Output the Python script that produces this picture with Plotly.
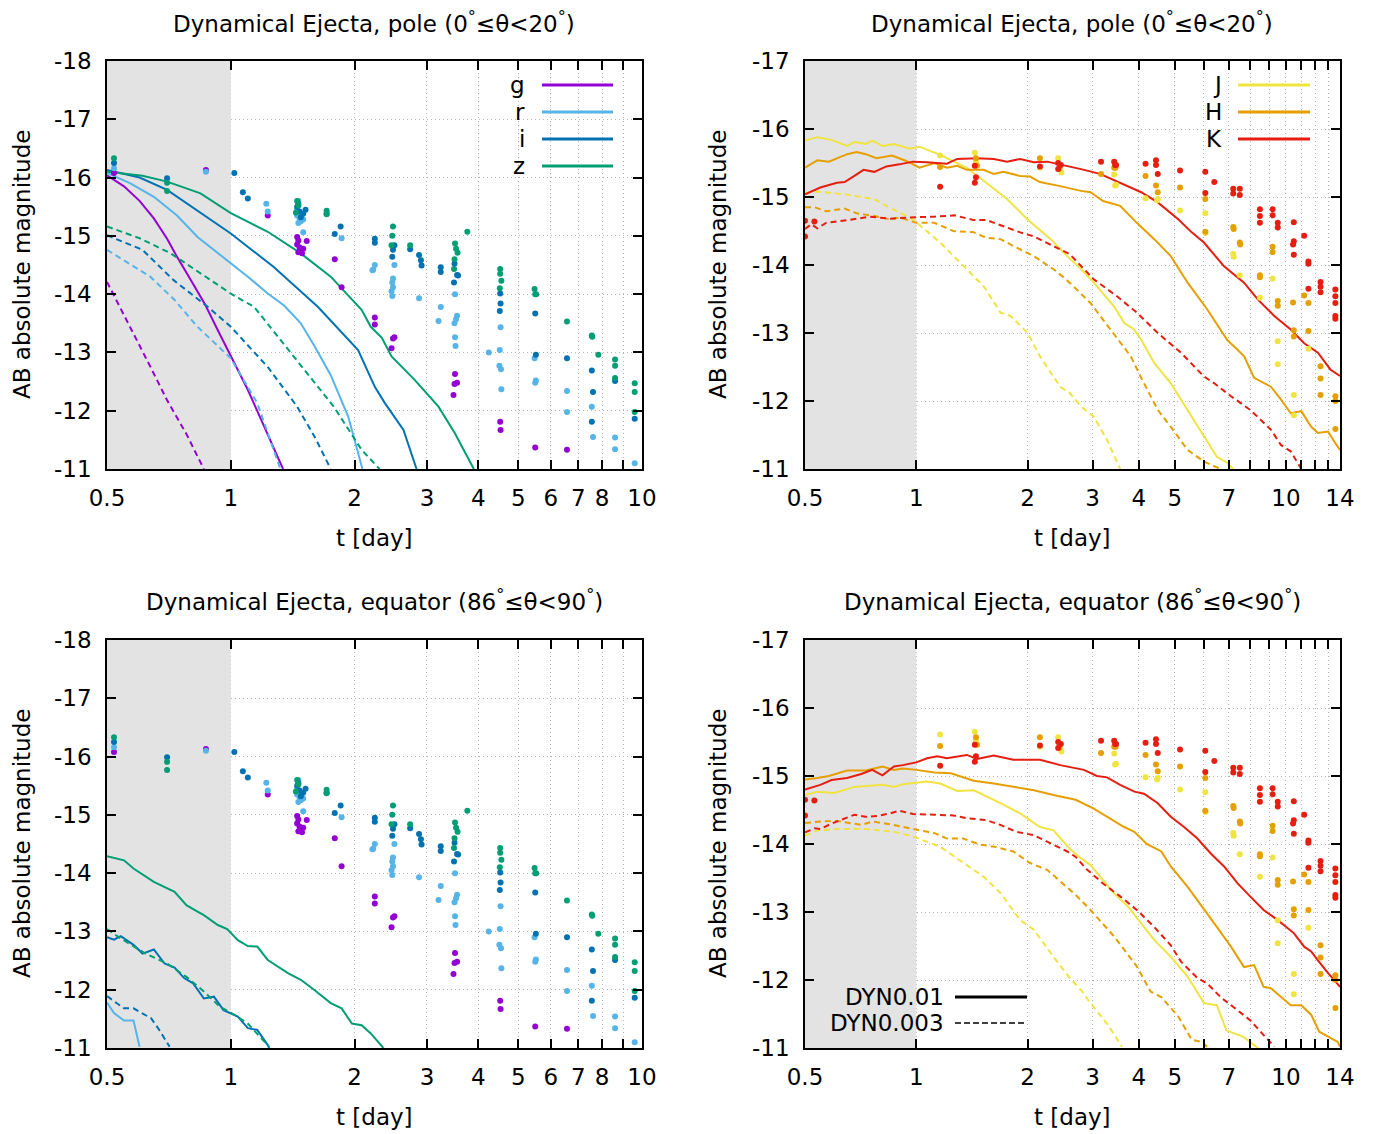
import math
import plotly.graph_objects as go

# ---------------------------------------------------------------- colours
COL = {"g": "#9400D3", "r": "#56B4E9", "i": "#0072B2", "z": "#009E73",
       "J": "#F0E442", "H": "#E69F00", "K": "#E51E10"}

# ---------------------------------------------------------------- model light curves
# pole (0 <= theta < 20 deg), optical bands; solid = DYN0.01, dashed = DYN0.003
pole_g_sol_t = [0.5, 0.55, 0.6, 0.65, 0.7, 0.74, 0.8, 0.868, 0.93, 1.0, 1.1, 1.2, 1.34]
pole_g_sol_m = [-16.04, -15.85, -15.6, -15.3, -14.95, -14.64, -14.24, -13.81, -13.38, -12.93, -12.36, -11.76, -11.0]
pole_g_dash_t = [0.5, 0.58, 0.64, 0.7, 0.78, 0.86]
pole_g_dash_m = [-14.21, -13.33, -12.73, -12.18, -11.6, -11.0]

pole_r_sol_t = [0.5, 0.57, 0.65, 0.74, 0.83, 1.0, 1.1, 1.23, 1.35, 1.48, 1.6, 1.75, 1.93, 2.09]
pole_r_sol_m = [-16.08, -15.9, -15.67, -15.35, -14.98, -14.53, -14.3, -14.01, -13.8, -13.5, -13.1, -12.61, -11.9, -11.0]
pole_r_dash_t = [0.5, 0.637, 0.73, 0.83, 1.0, 1.16, 1.32]
pole_r_dash_m = [-14.76, -14.30, -13.9, -13.44, -12.9, -12.13, -11.0]

pole_i_sol_t = [0.5, 0.6, 0.7, 0.844, 1.0, 1.27, 1.63, 2.04, 2.24, 2.37, 2.63, 2.83]
pole_i_sol_m = [-16.13, -16.0, -15.79, -15.39, -15.04, -14.47, -13.78, -13.04, -12.41, -12.13, -11.67, -11.0]
pole_i_dash_t = [0.5, 0.61, 0.726, 0.88, 1.0, 1.23, 1.45, 1.6, 1.75]
pole_i_dash_m = [-15.01, -14.76, -14.24, -13.78, -13.44, -12.75, -12.07, -11.55, -11.0]

pole_z_sol_t = [0.5, 0.61, 0.7, 0.844, 1.0, 1.23, 1.48, 1.75, 2.08, 2.19, 2.33, 2.46, 2.8, 3.2, 3.51, 3.9]
pole_z_sol_m = [-16.1, -16.03, -15.93, -15.73, -15.39, -15.07, -14.7, -14.3, -13.73, -13.44, -13.25, -12.93, -12.53, -12.07, -11.61, -11.0]
pole_z_dash_t = [0.5, 0.6, 0.714, 0.844, 1.0, 1.14, 1.3, 1.53, 1.78, 2.08, 2.3]
pole_z_dash_m = [-15.16, -14.96, -14.70, -14.36, -14.01, -13.78, -13.27, -12.64, -12.07, -11.33, -11.0]

# pole, near-infrared bands
pole_J_sol_t = [0.5, 0.54, 0.59, 0.65, 0.68, 0.73, 0.76, 0.81, 0.87, 0.96, 1.02, 1.16, 1.37, 1.55, 1.76,
                2.0, 2.31, 2.56, 2.79, 3.02, 3.43, 3.65, 3.89, 4.06, 4.4, 4.88, 5.42, 6.0, 6.5, 6.9, 7.2]
pole_J_sol_m = [-15.83, -15.88, -15.84, -15.75, -15.81, -15.78, -15.83, -15.75, -15.78, -15.71, -15.74, -15.62,
                -15.43, -15.21, -14.97, -14.67, -14.38, -14.13, -13.94, -13.74, -13.39, -13.15, -13.05, -12.9,
                -12.56, -12.26, -11.87, -11.48, -11.18, -11.1, -11.0]
pole_H_sol_t = [0.5, 0.54, 0.58, 0.65, 0.69, 0.73, 0.78, 0.86, 0.94, 1.02, 1.12, 1.21, 1.29, 1.37, 1.52, 1.62,
                1.72, 1.91, 2.03, 2.16, 2.45, 2.79, 2.96, 3.2, 3.56, 3.95, 4.4, 4.88, 5.42, 6.12, 6.93, 7.7,
                8.2, 9.1, 9.7, 10.3, 11.0, 11.7, 12.2, 13.0, 13.6, 14.0]
pole_H_sol_m = [-15.43, -15.54, -15.52, -15.63, -15.66, -15.63, -15.57, -15.61, -15.53, -15.43, -15.5, -15.43,
                -15.46, -15.4, -15.4, -15.34, -15.37, -15.31, -15.3, -15.22, -15.16, -15.09, -15.07, -14.94,
                -14.87, -14.62, -14.38, -14.13, -13.74, -13.35, -12.9, -12.66, -12.34, -12.21, -12.02, -11.82,
                -11.85, -11.62, -11.53, -11.55, -11.38, -11.28]
pole_K_sol_t = [0.5, 0.55, 0.61, 0.64, 0.68, 0.72, 0.77, 0.83, 0.9, 0.98, 1.07, 1.21, 1.29, 1.46, 1.62, 1.76,
                1.91, 2.08, 2.26, 2.45, 2.79, 3.14, 3.56, 4.06, 4.5, 5.12, 5.56, 6.0, 6.8, 7.7, 8.4, 9.3,
                10.3, 11.2, 12.2, 13.2, 14.0]
pole_K_sol_m = [-15.04, -15.14, -15.21, -15.22, -15.31, -15.4, -15.37, -15.45, -15.48, -15.52, -15.51, -15.49,
                -15.56, -15.57, -15.56, -15.52, -15.56, -15.51, -15.52, -15.48, -15.41, -15.34, -15.21, -15.07,
                -14.92, -14.67, -14.48, -14.33, -13.98, -13.74, -13.49, -13.25, -13.05, -12.85, -12.71,
                -12.46, -12.37]
pole_J_dash_t = [0.5, 0.54, 0.64, 0.77, 0.83, 0.9, 0.98, 1.16, 1.34, 1.52, 1.69, 1.8, 2.0, 2.16, 2.45, 2.6,
                 2.79, 3.02, 3.28, 3.56]
pole_J_dash_m = [-15.06, -15.08, -15.04, -14.97, -14.87, -14.77, -14.67, -14.33, -13.98, -13.69, -13.3, -13.25,
                 -13.0, -12.66, -12.21, -12.12, -11.92, -11.77, -11.43, -11.0]
pole_H_dash_t = [0.5, 0.53, 0.57, 0.64, 0.69, 0.77, 0.85, 0.9, 1.0, 1.12, 1.26, 1.43, 1.55, 1.69, 1.83, 2.08,
                 2.39, 2.6, 2.96, 3.36, 3.8, 4.13, 4.5, 4.88, 5.42, 6.0, 6.65]
pole_H_dash_m = [-14.85, -14.85, -14.79, -14.83, -14.76, -14.72, -14.67, -14.7, -14.62, -14.62, -14.5, -14.48,
                 -14.4, -14.38, -14.28, -14.13, -13.91, -13.74, -13.44, -13.05, -12.66, -12.26, -11.87, -11.62,
                 -11.28, -11.11, -11.0]
pole_K_dash_t = [0.5, 0.52, 0.54, 0.57, 0.65, 0.75, 0.85, 0.96, 1.12, 1.27, 1.43, 1.55, 1.72, 1.91, 2.08, 2.35,
                 2.6, 3.02, 3.49, 3.95, 4.5, 5.2, 6.0, 6.4, 7.1, 8.0, 9.1, 9.7, 10.3, 11.0]
pole_K_dash_m = [-14.53, -14.6, -14.54, -14.62, -14.66, -14.71, -14.68, -14.7, -14.71, -14.73, -14.66, -14.66,
                 -14.57, -14.48, -14.42, -14.28, -14.16, -13.79, -13.54, -13.3, -13.0, -12.71, -12.36, -12.26,
                 -12.07, -11.87, -11.58, -11.35, -11.26, -11.0]

# equator (86 <= theta < 90 deg), optical bands
eq_r_sol_t = [0.5, 0.52, 0.55, 0.58, 0.6]
eq_r_sol_m = [-11.78, -11.6, -11.47, -11.47, -11.02]
eq_i_sol_t = [0.5, 0.52, 0.54, 0.58, 0.61, 0.65, 0.69, 0.73, 0.77, 0.81, 0.86, 0.91, 0.96, 1.04, 1.1, 1.16, 1.23, 1.24]
eq_i_sol_m = [-12.9, -12.86, -12.92, -12.77, -12.62, -12.69, -12.45, -12.38, -12.2, -12.11, -11.85, -11.88,
              -11.65, -11.54, -11.34, -11.31, -11.05, -11.0]
eq_i_dash_t = [0.5, 0.55, 0.58, 0.64, 0.67, 0.71]
eq_i_dash_m = [-11.89, -11.68, -11.68, -11.51, -11.31, -11.02]
eq_z_sol_t = [0.5, 0.55, 0.58, 0.65, 0.73, 0.78, 0.83, 0.86, 0.93, 0.98, 1.04, 1.1, 1.16, 1.23, 1.38, 1.48,
              1.6, 1.75, 1.86, 1.97, 2.08, 2.19, 2.35]
eq_z_sol_m = [-14.29, -14.22, -14.08, -13.85, -13.68, -13.45, -13.34, -13.28, -13.11, -13.04, -12.85, -12.75,
              -12.74, -12.51, -12.28, -12.17, -11.99, -11.77, -11.68, -11.42, -11.39, -11.25, -11.0]
eq_z_dash_t = [0.5, 0.54, 0.62, 0.7, 0.78, 0.86, 0.94, 1.02, 1.1, 1.18, 1.24]
eq_z_dash_m = [-13.04, -12.88, -12.62, -12.45, -12.22, -11.97, -11.71, -11.57, -11.42, -11.19, -11.02]

# equator, near-infrared bands
eq_J_sol_t = [0.5, 0.54, 0.6, 0.68, 0.81, 0.87, 0.92, 1.07, 1.16, 1.29, 1.43, 1.55, 1.69, 1.91, 2.16, 2.35,
              2.6, 2.79, 2.96, 3.2, 3.43, 3.74, 4.06, 4.4, 4.88, 5.42, 6.0, 6.5, 6.9, 7.7, 8.4]
eq_J_sol_m = [-14.72, -14.77, -14.75, -14.84, -14.87, -14.84, -14.88, -14.92, -14.89, -14.78, -14.79, -14.7,
              -14.6, -14.45, -14.25, -14.2, -13.93, -13.79, -13.69, -13.47, -13.27, -13.08, -12.83, -12.59,
              -12.34, -12.05, -11.66, -11.63, -11.26, -11.16, -11.0]
eq_H_sol_t = [0.5, 0.54, 0.58, 0.65, 0.73, 0.81, 0.87, 0.92, 1.0, 1.12, 1.24, 1.43, 1.62, 1.83, 2.08, 2.35,
              2.7, 3.02, 3.28, 3.65, 3.89, 4.2, 4.6, 4.88, 5.42, 6.0, 6.5, 7.1, 7.7, 8.2, 8.7, 9.1, 9.7, 10.3,
              11.0, 11.7, 12.3, 13.0, 13.8, 14.0]
eq_H_sol_m = [-14.95, -14.97, -15.0, -15.08, -15.08, -15.14, -15.09, -15.11, -15.09, -15.05, -15.04, -14.93,
              -14.89, -14.84, -14.79, -14.72, -14.65, -14.52, -14.4, -14.25, -14.18, -14.0, -13.89, -13.67,
              -13.37, -13.03, -12.78, -12.49, -12.19, -12.22, -11.9, -11.88, -11.75, -11.63, -11.63, -11.49,
              -11.24, -11.17, -11.09, -11.02]
eq_K_sol_t = [0.5, 0.55, 0.59, 0.65, 0.71, 0.76, 0.81, 0.87, 0.92, 1.0, 1.07, 1.14, 1.21, 1.37, 1.46, 1.62,
              1.83, 2.16, 2.45, 2.7, 2.84, 3.08, 3.28, 3.56, 3.89, 4.13, 4.5, 4.88, 5.3, 5.76, 6.26, 6.8, 7.4,
              8.0, 8.7, 9.5, 10.5, 11.2, 11.7, 12.2, 13.0, 14.0]
eq_K_sol_m = [-14.8, -14.87, -14.94, -14.97, -15.03, -15.09, -15.01, -15.14, -15.16, -15.2, -15.26, -15.29,
              -15.26, -15.31, -15.25, -15.3, -15.24, -15.24, -15.16, -15.11, -15.09, -15.0, -14.98, -14.87,
              -14.77, -14.74, -14.6, -14.4, -14.25, -14.08, -13.86, -13.67, -13.42, -13.23, -13.03, -12.88,
              -12.69, -12.49, -12.42, -12.29, -12.1, -11.9]
eq_J_dash_t = [0.5, 0.54, 0.61, 0.73, 0.87, 0.98, 1.16, 1.34, 1.52, 1.69, 1.91, 2.08, 2.35, 2.6, 2.79, 2.96,
               3.28, 3.6]
eq_J_dash_m = [-14.12, -14.2, -14.22, -14.22, -14.18, -14.11, -13.96, -13.72, -13.52, -13.28, -12.88, -12.74,
               -12.34, -12.03, -11.85, -11.66, -11.36, -11.02]
eq_H_dash_t = [0.5, 0.55, 0.61, 0.71, 0.76, 0.85, 0.96, 1.12, 1.21, 1.34, 1.49, 1.63, 1.83, 2.03, 2.26, 2.56,
               2.7, 2.96, 3.43, 3.95, 4.3, 4.6, 5.12, 5.56, 5.9, 6.12]
eq_H_dash_m = [-14.31, -14.33, -14.34, -14.28, -14.33, -14.29, -14.23, -14.16, -14.08, -14.08, -13.99, -13.96,
               -13.89, -13.72, -13.62, -13.37, -13.25, -13.03, -12.64, -12.2, -11.83, -11.75, -11.46, -11.12,
               -11.09, -11.02]
eq_K_dash_t = [0.5, 0.53, 0.55, 0.59, 0.68, 0.73, 0.78, 0.85, 0.9, 0.98, 1.12, 1.26, 1.37, 1.55, 1.69, 1.86,
               2.08, 2.35, 2.56, 2.7, 2.9, 3.2, 3.56, 3.95, 4.4, 4.88, 5.2, 5.76, 6.12, 6.65, 7.4, 8.0, 8.7, 9.3]
eq_K_dash_m = [-14.17, -14.23, -14.22, -14.3, -14.43, -14.4, -14.41, -14.45, -14.49, -14.44, -14.43, -14.42,
               -14.38, -14.35, -14.28, -14.18, -14.13, -13.99, -13.89, -13.81, -13.62, -13.42, -13.23, -13.03,
               -12.78, -12.51, -12.27, -12.03, -11.95, -11.75, -11.56, -11.41, -11.19, -11.02]

# ---------------------------------------------------------------- observed photometry (same in both rows)
obs_g_t = [0.52, 0.87, 1.23, 1.45, 1.46, 1.45, 1.47, 1.48, 1.46, 1.49, 1.53, 1.5, 1.79, 1.86, 2.24, 2.24,
           2.48, 2.5, 2.46, 3.51, 3.55, 3.5, 3.48, 4.52, 4.53, 5.5, 6.57]
obs_g_m = [-16.08, -16.13, -15.35, -14.98, -14.92, -14.85, -14.8, -14.75, -14.72, -14.7, -14.91, -14.78,
           -14.6, -14.12, -13.6, -13.48, -13.24, -13.26, -13.07, -12.63, -12.48, -12.46, -12.27, -11.81,
           -11.67, -11.37, -11.33]
obs_r_t = [0.52, 0.87, 1.22, 1.23, 1.46, 1.45, 1.47, 1.48, 1.46, 1.5, 1.45, 1.5, 1.86, 2.24, 2.22, 2.21,
           2.5, 2.48, 2.47, 2.48, 2.46, 2.47, 2.87, 3.24, 3.2, 3.51, 3.55, 3.53, 3.5, 3.51, 3.52, 4.24, 4.53,
           4.51, 4.5, 4.54, 4.55, 5.48, 5.52, 5.5, 6.57, 6.57, 7.55, 7.6, 8.6, 8.6, 9.6]
obs_r_m = [-16.16, -16.1, -15.55, -15.42, -15.6, -15.35, -15.3, -15.25, -15.22, -15.28, -15.45, -15.06,
           -14.96, -14.5, -14.42, -14.41, -14.5, -14.27, -14.2, -14.12, -14.05, -13.97, -13.93, -13.78,
           -13.54, -14.0, -13.63, -13.57, -13.5, -13.26, -13.11, -13.0, -13.43, -13.04, -12.77, -12.71,
           -12.37, -12.9, -12.52, -12.48, -12.34, -11.98, -12.07, -11.55, -11.54, -11.34, -11.1]
obs_i_t = [0.52, 0.7, 1.02, 1.07, 1.1, 1.45, 1.47, 1.5, 1.52, 1.48, 1.46, 1.71, 1.79, 1.85, 2.24, 2.24, 2.5,
           2.48, 2.47, 2.73, 2.87, 2.9, 2.91, 3.24, 3.24, 3.5, 3.55, 3.57, 3.49, 4.52, 4.53, 4.51, 5.5, 5.52,
           6.57, 7.55, 7.6, 7.55, 8.6, 9.6]
obs_i_m = [-16.25, -15.99, -16.08, -15.75, -15.64, -15.5, -15.42, -15.38, -15.45, -15.32, -15.55, -15.38,
           -15.03, -15.16, -14.95, -14.88, -14.84, -14.76, -14.64, -14.77, -14.67, -14.58, -14.49, -14.46,
           -14.38, -14.52, -14.33, -14.32, -14.2, -14.01, -13.84, -13.71, -13.67, -12.96, -12.9, -12.69,
           -12.32, -11.81, -12.51, -11.86]
obs_z_t = [0.52, 0.7, 0.7, 1.45, 1.46, 1.44, 1.71, 1.71, 2.48, 2.47, 2.46, 2.73, 3.51, 3.53, 3.56, 3.5, 3.49,
           3.76, 4.52, 4.52, 4.55, 4.51, 5.48, 5.5, 5.53, 6.57, 7.55, 7.57, 7.83, 8.6, 8.6, 8.6, 9.6, 9.6, 9.6]
obs_z_m = [-16.33, -15.91, -15.77, -15.6, -15.52, -15.4, -15.43, -15.37, -15.16, -15.0, -14.84, -14.84,
           -14.87, -14.78, -14.71, -14.6, -14.43, -15.07, -14.43, -14.35, -14.23, -14.1, -14.09, -14.0,
           -14.0, -13.53, -13.29, -13.27, -12.96, -12.88, -12.77, -12.56, -12.47, -12.32, -11.98]
obs_J_t = [1.16, 1.44, 1.45, 2.16, 2.42, 2.47, 3.43, 3.45, 3.47, 4.17, 4.5, 4.48, 5.17, 6.05, 6.06, 7.2, 7.22,
           7.5, 8.5, 9.2, 9.5, 9.5, 10.5, 10.5, 11.5]
obs_J_m = [-15.61, -15.65, -15.52, -15.43, -15.57, -15.36, -15.33, -15.17, -15.18, -14.98, -14.97, -14.95,
           -14.8, -14.76, -14.47, -14.16, -14.12, -13.85, -13.52, -13.8, -12.88, -12.54, -12.09, -11.79,
           -12.77]
obs_H_t = [1.16, 1.45, 1.46, 2.16, 2.44, 3.16, 3.43, 3.46, 4.17, 4.45, 4.5, 5.17, 6.05, 6.05, 7.2, 7.22, 7.5,
           7.52, 8.5, 8.5, 9.2, 9.2, 9.5, 9.5, 10.45, 10.5, 10.5, 11.2, 11.5, 11.5, 12.4, 12.4, 12.4, 13.6,
           13.6, 13.6]
obs_H_m = [-15.44, -15.57, -15.46, -15.57, -15.42, -15.34, -15.43, -15.43, -15.31, -15.17, -15.07, -15.14,
           -14.97, -14.49, -14.56, -14.53, -14.33, -14.3, -13.85, -13.82, -14.27, -14.19, -13.47, -13.4,
           -13.45, -13.04, -12.95, -13.55, -13.44, -13.03, -12.51, -12.33, -12.09, -12.07, -12.0, -11.59]
obs_K_t = [0.5, 0.53, 0.5, 1.16, 1.44, 1.45, 1.44, 2.16, 2.42, 2.46, 2.42, 3.16, 3.43, 3.45, 3.47, 4.17,
           4.45, 4.45, 4.5, 5.17, 6.05, 6.4, 6.05, 7.2, 7.5, 7.2, 7.5, 8.5, 8.5, 8.5, 9.2, 9.2, 9.5, 9.5,
           10.5, 10.5, 10.45, 10.5, 11.2, 11.5, 11.5, 11.5, 12.4, 12.4, 12.4, 13.6, 13.6, 13.6, 13.6, 13.6]
obs_K_m = [-14.65, -14.64, -14.42, -15.15, -15.46, -15.29, -15.21, -15.45, -15.5, -15.47, -15.41, -15.52,
           -15.52, -15.47, -15.47, -15.49, -15.54, -15.47, -15.34, -15.39, -15.37, -15.22, -15.06, -15.12,
           -15.12, -15.05, -15.03, -14.82, -14.72, -14.62, -14.82, -14.73, -14.62, -14.55, -14.63, -14.35,
           -14.3, -14.15, -14.43, -14.05, -14.02, -13.65, -13.75, -13.68, -13.6, -13.64, -13.54, -13.44,
           -13.25, -13.21]

# ---------------------------------------------------------------- axes ticks
opt_tickvals = [0.5, 1, 2, 3, 4, 5, 6, 7, 8, 9, 10]
opt_ticktext = ["0.5", "1", "2", "3", "4", "5", "6", "7", "8", "", "10"]
nir_tickvals = [0.5, 1, 2, 3, 4, 5, 6, 7, 8, 9, 10, 11, 12, 13, 14]
nir_ticktext = ["0.5", "1", "2", "3", "4", "5", "", "7", "", "", "10", "", "", "", "14"]
opt_magvals = [-18, -17, -16, -15, -14, -13, -12, -11]
nir_magvals = [-17, -16, -15, -14, -13, -12, -11]
early_t = [0.5, 1.0]   # first day, shaded

W, H = 1384, 1134
FONT = "DejaVu Sans, Verdana, sans-serif"
FS = 23

fig = go.Figure()


def add_band(ax, mags):
    lo, hi = max(mags), min(mags)
    fig.add_trace(go.Scatter(
        x=[early_t[0], early_t[1], early_t[1], early_t[0], early_t[0]],
        y=[lo, lo, hi, hi, lo], mode="lines", fill="toself",
        fillcolor="#e3e3e3", line=dict(width=0, color="#e3e3e3"),
        xaxis="x" + ax, yaxis="y" + ax, showlegend=False, hoverinfo="skip"))


def add_curve(t, m, band, dashed, ax):
    fig.add_trace(go.Scatter(
        x=t, y=m, mode="lines", xaxis="x" + ax, yaxis="y" + ax,
        line=dict(color=COL[band], width=2, dash="6px,4px" if dashed else "solid"),
        showlegend=False, hoverinfo="skip"))


def add_obs(t, m, band, ax):
    fig.add_trace(go.Scatter(
        x=t, y=m, mode="markers", xaxis="x" + ax, yaxis="y" + ax,
        marker=dict(color=COL[band], size=6, line=dict(width=0)),
        showlegend=False, hoverinfo="skip"))


add_band("", opt_magvals)
add_band("2", nir_magvals)
add_band("3", opt_magvals)
add_band("4", nir_magvals)

# panel 1: pole, optical
for band, ts, ms, td, md in [
        ("g", pole_g_sol_t, pole_g_sol_m, pole_g_dash_t, pole_g_dash_m),
        ("r", pole_r_sol_t, pole_r_sol_m, pole_r_dash_t, pole_r_dash_m),
        ("i", pole_i_sol_t, pole_i_sol_m, pole_i_dash_t, pole_i_dash_m),
        ("z", pole_z_sol_t, pole_z_sol_m, pole_z_dash_t, pole_z_dash_m)]:
    add_curve(ts, ms, band, False, "")
    add_curve(td, md, band, True, "")

# panel 2: pole, NIR
for band, ts, ms, td, md in [
        ("J", pole_J_sol_t, pole_J_sol_m, pole_J_dash_t, pole_J_dash_m),
        ("H", pole_H_sol_t, pole_H_sol_m, pole_H_dash_t, pole_H_dash_m),
        ("K", pole_K_sol_t, pole_K_sol_m, pole_K_dash_t, pole_K_dash_m)]:
    add_curve(ts, ms, band, False, "2")
    add_curve(td, md, band, True, "2")

# panel 3: equator, optical
add_curve(eq_r_sol_t, eq_r_sol_m, "r", False, "3")
add_curve(eq_i_sol_t, eq_i_sol_m, "i", False, "3")
add_curve(eq_i_dash_t, eq_i_dash_m, "i", True, "3")
add_curve(eq_z_sol_t, eq_z_sol_m, "z", False, "3")
add_curve(eq_z_dash_t, eq_z_dash_m, "z", True, "3")

# panel 4: equator, NIR
for band, ts, ms, td, md in [
        ("J", eq_J_sol_t, eq_J_sol_m, eq_J_dash_t, eq_J_dash_m),
        ("H", eq_H_sol_t, eq_H_sol_m, eq_H_dash_t, eq_H_dash_m),
        ("K", eq_K_sol_t, eq_K_sol_m, eq_K_dash_t, eq_K_dash_m)]:
    add_curve(ts, ms, band, False, "4")
    add_curve(td, md, band, True, "4")

# observed points
for ax in ["", "3"]:
    for band, t, m in [("g", obs_g_t, obs_g_m), ("r", obs_r_t, obs_r_m),
                       ("i", obs_i_t, obs_i_m), ("z", obs_z_t, obs_z_m)]:
        add_obs(t, m, band, ax)
for ax in ["2", "4"]:
    for band, t, m in [("J", obs_J_t, obs_J_m), ("H", obs_H_t, obs_H_m), ("K", obs_K_t, obs_K_m)]:
        add_obs(t, m, band, ax)

# ---------------------------------------------------------------- layout
def px_x(v):
    return v / W


def px_y(v):
    return 1 - v / H


dom_left = [px_x(107), px_x(642)]
dom_right = [px_x(805), px_x(1340)]
dom_top = [px_y(469), px_y(61)]
dom_bot = [px_y(1048), px_y(640)]

common_x = dict(type="log", ticks="inside", ticklen=9, tickwidth=1.5, tickcolor="black",
                showline=True, linecolor="black", linewidth=1.5, mirror="allticks",
                showgrid=True, gridcolor="#b4b4b4", griddash="1px,3px", gridwidth=1,
                tickfont=dict(family=FONT, size=FS, color="black"), ticklabelstandoff=8,
                zeroline=False, automargin=False)
common_y = dict(ticks="inside", ticklen=9, tickwidth=1.5, tickcolor="black",
                showline=True, linecolor="black", linewidth=1.5, mirror="allticks",
                showgrid=True, gridcolor="#b4b4b4", griddash="1px,3px", gridwidth=1,
                tickfont=dict(family=FONT, size=FS, color="black"), ticklabelstandoff=9,
                zeroline=False, automargin=False)

opt_xrange = [math.log10(0.5), math.log10(10)]
nir_xrange = [math.log10(0.5), math.log10(14)]

fig.update_layout(
    template="none",
    width=W, height=H, margin=dict(l=0, r=0, t=0, b=0, autoexpand=False),
    paper_bgcolor="white", plot_bgcolor="white", showlegend=False,
    font=dict(family=FONT, size=FS, color="black"),
    xaxis=dict(common_x, domain=dom_left, anchor="y", range=opt_xrange,
               tickvals=opt_tickvals, ticktext=opt_ticktext),
    yaxis=dict(common_y, domain=dom_top, anchor="x", range=[-11, -18],
               tickvals=opt_magvals, ticktext=[str(v) for v in opt_magvals]),
    xaxis2=dict(common_x, domain=dom_right, anchor="y2", range=nir_xrange,
                tickvals=nir_tickvals, ticktext=nir_ticktext),
    yaxis2=dict(common_y, domain=dom_top, anchor="x2", range=[-11, -17],
                tickvals=nir_magvals, ticktext=[str(v) for v in nir_magvals]),
    xaxis3=dict(common_x, domain=dom_left, anchor="y3", range=opt_xrange,
                tickvals=opt_tickvals, ticktext=opt_ticktext),
    yaxis3=dict(common_y, domain=dom_bot, anchor="x3", range=[-11, -18],
                tickvals=opt_magvals, ticktext=[str(v) for v in opt_magvals]),
    xaxis4=dict(common_x, domain=dom_right, anchor="y4", range=nir_xrange,
                tickvals=nir_tickvals, ticktext=nir_ticktext),
    yaxis4=dict(common_y, domain=dom_bot, anchor="x4", range=[-11, -17],
                tickvals=nir_magvals, ticktext=[str(v) for v in nir_magvals]),
)

shapes = []
annotations = []

titles = [
    (374, 22, "Dynamical Ejecta, pole (0<sup>°</sup>≤θ&lt;20<sup>°</sup>)"),
    (1072, 22, "Dynamical Ejecta, pole (0<sup>°</sup>≤θ&lt;20<sup>°</sup>)"),
    (374, 600, "Dynamical Ejecta, equator (86<sup>°</sup>≤θ&lt;90<sup>°</sup>)"),
    (1072, 600, "Dynamical Ejecta, equator (86<sup>°</sup>≤θ&lt;90<sup>°</sup>)"),
]
for x, y, txt in titles:
    annotations.append(dict(x=px_x(x), y=px_y(y), xref="paper", yref="paper", text=txt,
                            showarrow=False, xanchor="center", yanchor="middle",
                            font=dict(family=FONT, size=FS, color="black")))

for x, y in [(374, 538), (1072, 538), (374, 1117), (1072, 1117)]:
    annotations.append(dict(x=px_x(x), y=px_y(y), xref="paper", yref="paper", text="t [day]",
                            showarrow=False, xanchor="center", yanchor="middle",
                            font=dict(family=FONT, size=FS, color="black")))
for x, y in [(22, 265), (718, 265), (22, 844), (718, 844)]:
    annotations.append(dict(x=px_x(x), y=px_y(y), xref="paper", yref="paper",
                            text="AB absolute magnitude", textangle=-90,
                            showarrow=False, xanchor="center", yanchor="middle",
                            font=dict(family=FONT, size=FS, color="black")))


# band keys: label on the left, line sample on the right
def key(label, x_text, x0, x1, y, color, width=3, dash="solid"):
    annotations.append(dict(x=px_x(x_text), y=px_y(y), xref="paper", yref="paper", text=label,
                            showarrow=False, xanchor="right", yanchor="middle",
                            font=dict(family=FONT, size=FS, color="black")))
    shapes.append(dict(type="line", xref="paper", yref="paper", x0=px_x(x0), x1=px_x(x1),
                       y0=px_y(y), y1=px_y(y), line=dict(color=color, width=width, dash=dash)))


for lab, y in [("g", 85), ("r", 112), ("i", 139), ("z", 166)]:
    key(lab, 527, 542, 613, y, COL[lab])
for lab, y in [("J", 85), ("H", 112), ("K", 139)]:
    key(lab, 1224, 1238, 1310, y, COL[lab])
key("DYN0.01", 946, 955, 1027, 997, "black", width=3)
key("DYN0.003", 946, 955, 1027, 1023, "black", width=1.5, dash="6px,3px")

fig.update_layout(shapes=shapes, annotations=annotations)
fig.write_html("out.html")
